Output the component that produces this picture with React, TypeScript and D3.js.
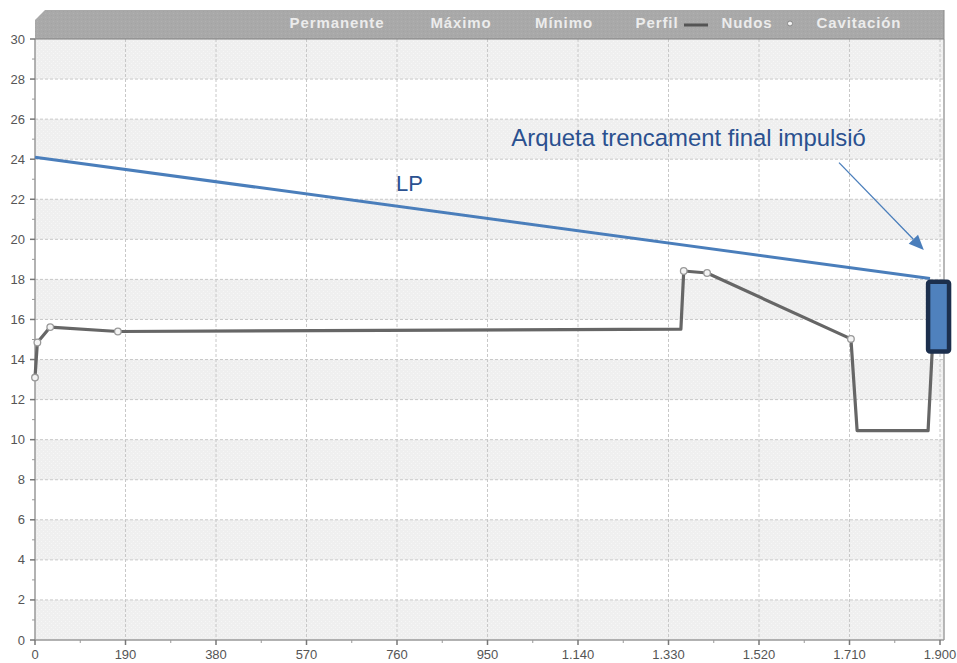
import React from "react";
import * as d3 from "d3";

const W = 957;
const H = 663;

// Axis ticks
const xTicks = [0, 190, 380, 570, 760, 950, 1140, 1330, 1520, 1710, 1900];
const xTickLabels = ["0", "190", "380", "570", "760", "950", "1.140", "1.330", "1.520", "1.710", "1.900"];
const yTicks = [0, 2, 4, 6, 8, 10, 12, 14, 16, 18, 20, 22, 24, 26, 28, 30];

// Legend
const legendItems = ["Permanente", "Máximo", "Mínimo", "Perfil", "Nudos", "Cavitación"];

// Perfil series
const perfilX = [0, 5, 32, 174, 1356, 1362, 1411, 1713, 1726, 1875, 1884];
const perfilY = [13.1, 14.85, 15.62, 15.4, 15.52, 18.42, 18.32, 15.03, 10.45, 10.45, 14.6];
const nodeIdx = [0, 1, 2, 3, 5, 6, 7];

// LP line
const lpX = [0, 1879];
const lpY = [24.1, 18.05];

// Annotation
const boxX = [1875, 1919];
const boxY = [14.4, 17.88];
const arrowX = [1688, 1866];
const arrowY = [23.83, 19.47];
const annText = "Arqueta trencament final impulsió";
const annPos = [1000, 24.68];
const lpText = "LP";
const lpPos = [758, 22.4];

export default function App() {
  const left = 35, right = 940, top = 39, bottom = 640, plotRight = 944;
  const x = d3.scaleLinear().domain([0, 1900]).range([left, right]);
  const y = d3.scaleLinear().domain([0, 30]).range([bottom, top]);

  const bands = d3.range(0, 30, 2);
  const line = d3.line<number>().x((i) => x(perfilX[i])).y((i) => y(perfilY[i]));
  const lpLine = d3.line<number>().x((i) => x(lpX[i])).y((i) => y(lpY[i]));
  const minorX = d3.range(95, 1900, 190);
  const minorY = d3.range(1, 30, 2);

  const legendPos = [337, 461, 564, 657, 747, 859];

  return (
    <svg width={W} height={H} style={{ position: "absolute", left: 0, top: 0, fontFamily: "Arial, 'Liberation Sans', sans-serif" }}>
      <defs>
        <pattern id="dots" width="4" height="4" patternUnits="userSpaceOnUse">
          <rect width="4" height="4" fill="#efefef" />
          <rect x="1" y="1" width="1" height="1" fill="#f7f7f7" />
          <rect x="3" y="3" width="1" height="1" fill="#f6f6f6" />
        </pattern>
        <pattern id="hdots" width="4" height="4" patternUnits="userSpaceOnUse">
          <rect width="4" height="4" fill="#a9a9a9" />
          <rect x="1" y="1" width="1" height="1" fill="#b1b1b1" />
          <rect x="3" y="3" width="1" height="1" fill="#a3a3a3" />
        </pattern>
      </defs>
      <rect x={0} y={0} width={W} height={H} fill="#ffffff" />
      {/* plot background */}
      <rect x={left} y={top} width={plotRight - left} height={bottom - top} fill="#ffffff" />
      {bands.map((b, i) =>
        i % 2 === 0 ? (
          <rect key={b} x={left} y={y(b + 2)} width={plotRight - left} height={y(b) - y(b + 2)} fill="url(#dots)" />
        ) : null
      )}
      {/* grid */}
      {yTicks.slice(1, -1).map((t) => (
        <line key={"gy" + t} x1={left} x2={plotRight} y1={y(t)} y2={y(t)} stroke="#c8c8c8" strokeDasharray="3,2" />
      ))}
      {xTicks.slice(1).map((t) => (
        <line key={"gx" + t} x1={x(t)} x2={x(t)} y1={top} y2={bottom} stroke="#c8c8c8" strokeDasharray="3,2" />
      ))}
      {/* frame */}
      <line x1={plotRight} x2={plotRight} y1={top} y2={bottom} stroke="#a0a0a0" strokeWidth={1.5} />
      <line x1={left} x2={left} y1={top} y2={bottom} stroke="#999" strokeWidth={1.5} />
      <line x1={left} x2={plotRight} y1={bottom} y2={bottom} stroke="#999" strokeWidth={1.5} />

      {/* header */}
      <polygon points={`${left},20 ${left + 10},10 ${plotRight},10 ${plotRight},${top} ${left},${top}`} fill="url(#hdots)" />
      <line x1={left} x2={plotRight} y1={top} y2={top} stroke="#808080" strokeWidth={1} />
      <line x1={plotRight} x2={plotRight} y1={10} y2={top} stroke="#8a8a8a" strokeWidth={1} />
      {legendItems.map((t, i) => (
        <text key={t} x={legendPos[i]} y={28} textAnchor="middle" fill="#ececec" fontSize={15} fontWeight="bold" letterSpacing={0.9}>
          {t}
        </text>
      ))}
      <line x1={684} x2={708} y1={25} y2={25} stroke="#555" strokeWidth={3} />
      <circle cx={790} cy={23.5} r={2.5} fill="#f2f2f2" stroke="#888" strokeWidth={1} />

      {/* y axis ticks */}
      {yTicks.map((t) => (
        <g key={"yt" + t}>
          <line x1={left - 5} x2={left} y1={y(t)} y2={y(t)} stroke="#777" strokeWidth={1.5} />
          <text x={25} y={y(t) + 4.5} textAnchor="end" fontSize={13} fill="#555">{t}</text>
        </g>
      ))}
      {minorY.map((t) => (
        <line key={"my" + t} x1={left - 3} x2={left} y1={y(t)} y2={y(t)} stroke="#999" />
      ))}
      {/* x axis ticks */}
      {xTicks.map((t, i) => (
        <g key={"xt" + t}>
          <line x1={x(t)} x2={x(t)} y1={bottom} y2={bottom + 5} stroke="#777" strokeWidth={1.5} />
          <text x={x(t)} y={659} textAnchor="middle" fontSize={13} fill="#555">{xTickLabels[i]}</text>
        </g>
      ))}
      {minorX.map((t) => (
        <line key={"mx" + t} x1={x(t)} x2={x(t)} y1={bottom} y2={bottom + 3} stroke="#999" />
      ))}

      {/* LP line */}
      <path d={lpLine(d3.range(lpX.length)) || ""} fill="none" stroke="#4a7ebb" strokeWidth={3} />

      {/* perfil */}
      <path d={line(d3.range(perfilX.length)) || ""} fill="none" stroke="#666" strokeWidth={3.2} strokeLinejoin="round" />
      {nodeIdx.map((i) => (
        <circle key={"n" + i} cx={x(perfilX[i])} cy={y(perfilY[i])} r={3.3} fill="#f4f4f4" stroke="#999" strokeWidth={1.3} />
      ))}

      {/* box */}
      <rect x={x(boxX[0])} y={y(boxY[1])} width={x(boxX[1]) - x(boxX[0])} height={y(boxY[0]) - y(boxY[1])}
        rx={2} fill="#4f81bd" stroke="#1c2f4d" strokeWidth={4.5} />

      {/* arrow */}
      {(() => {
        const x1 = x(arrowX[0]), y1 = y(arrowY[0]), x2 = x(arrowX[1]), y2 = y(arrowY[1]);
        const ang = Math.atan2(y2 - y1, x2 - x1);
        const L = 15, Wd = 6.5;
        const bx = x2 - L * Math.cos(ang), by = y2 - L * Math.sin(ang);
        const px = -Math.sin(ang) * Wd, py = Math.cos(ang) * Wd;
        return (
          <g>
            <line x1={x1} y1={y1} x2={bx} y2={by} stroke="#4a7ebb" strokeWidth={1.3} />
            <polygon points={`${x2},${y2} ${bx + px},${by + py} ${bx - px},${by - py}`} fill="#4a7ebb" />
          </g>
        );
      })()}

      <text x={x(annPos[0])} y={y(annPos[1])} fontSize={23.9} fill="#2b5190">{annText}</text>
      <text x={x(lpPos[0])} y={y(lpPos[1])} fontSize={22} fill="#2b5190">{lpText}</text>
    </svg>
  );
}
